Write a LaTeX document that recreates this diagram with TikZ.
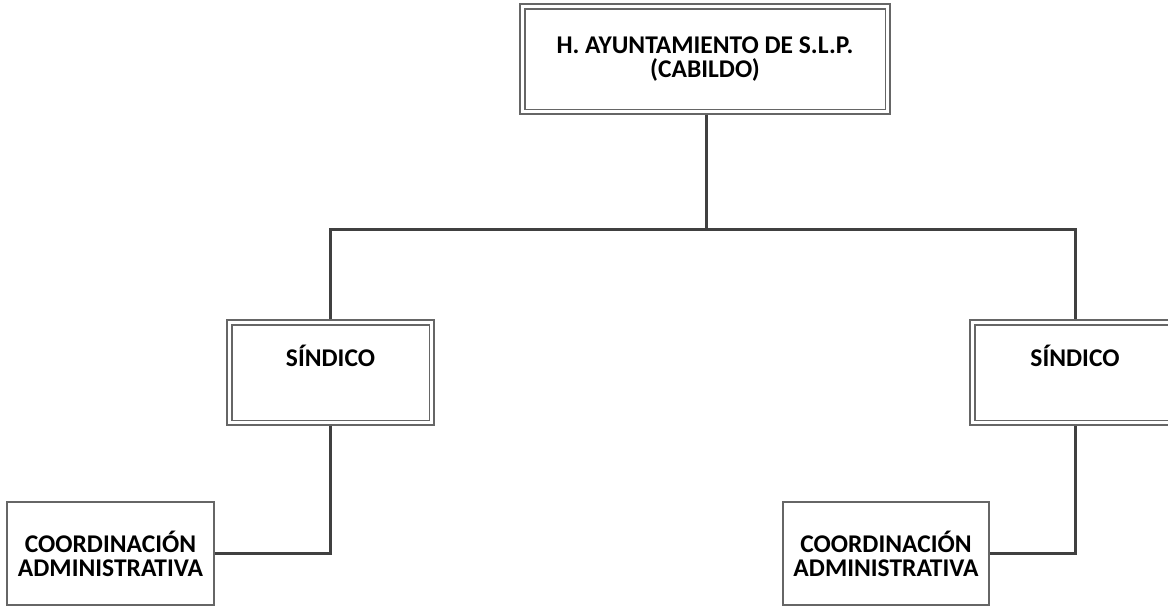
\documentclass[tikz,border=0pt]{standalone}
\usepackage{fontspec}
\setmainfont{Carlito}
\tikzset{
  x=1pt, y=-1pt,
  txt/.style={align=center, font=\bfseries\fontsize{25.5}{24}\selectfont, inner sep=0pt},
  obox/.style={txt, draw=black!60, line width=1.1pt},
  sbox/.style={txt, draw=black!60, line width=1.1pt},
  ibox/.style={draw=black!60, line width=1.1pt},
  link/.style={draw=black!75, line width=3pt}
}
\begin{document}
\begin{tikzpicture}
\useasboundingbox (0,0) rectangle (1168,606);
\node[obox, minimum width=370pt, minimum height=110pt] (top) at (705,59) {H. AYUNTAMIENTO DE S.L.P.\\(CABILDO)};
\node[obox, minimum width=207pt, minimum height=105pt, text height=18pt, text depth=31pt] (s1) at (330.5,372.5) {SÍNDICO};
\node[obox, minimum width=210pt, minimum height=105pt, text height=18pt, text depth=31pt] (s2) at (1075,372.5) {SÍNDICO};
\foreach \n in {top,s1,s2}
  \draw[ibox] ([shift={(5.5,5.5)}]\n.north west) rectangle ([shift={(-5.5,-5.5)}]\n.south east);
\node[sbox, minimum width=207pt, minimum height=103pt] (c1) at (110.5,553.5) {COORDINACIÓN\\ADMINISTRATIVA};
\node[sbox, minimum width=206pt, minimum height=103pt] (c2) at (886,553.5) {COORDINACIÓN\\ADMINISTRATIVA};
\coordinate (bus) at (706,229);
\draw[link] (top.south -| bus) -- (bus);
\draw[link] (s1.north) |- (bus) -| (s2.north);
\draw[link] (s1.south) |- (c1.east);
\draw[link] (s2.south) |- (c2.east);
\end{tikzpicture}
\end{document}
